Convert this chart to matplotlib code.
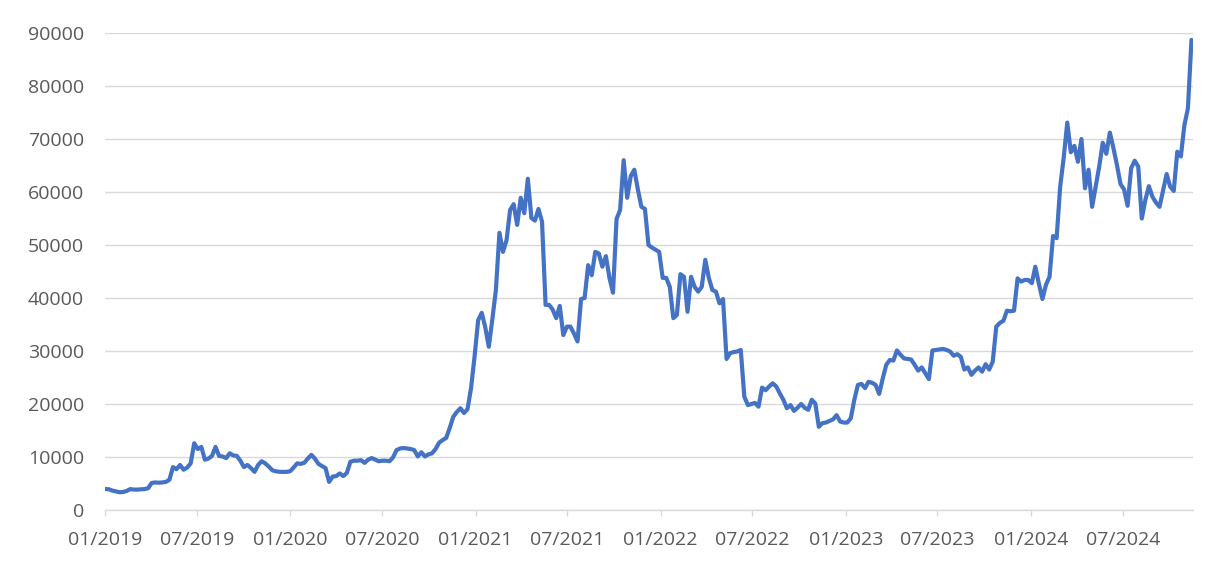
import numpy as np
import pandas as pd
import matplotlib
matplotlib.use('Agg')
import matplotlib.pyplot as plt
import matplotlib.dates as mdates

# weekly prices (Wednesday)
btc_2019 = [3950, 3900, 3650, 3500, 3350, 3400, 3600, 3950, 3850, 3850, 3900, 3950, 4100,
            5100, 5200, 5150, 5200, 5300, 5700, 8100, 7700, 8500, 7600, 8000, 8800, 12600,
            11500, 11900, 9500, 9700, 10200, 11900, 10200, 10100, 9800, 10700, 10300, 10200,
            9300, 8100, 8500, 7900, 7200, 8500, 9200, 8800, 8200, 7500, 7300, 7200, 7200, 7200]
btc_2020 = [7300, 8000, 8800, 8700, 8900, 9700, 10400, 9700, 8700, 8300, 7900, 5300, 6300,
            6400, 6900, 6400, 7000, 9100, 9300, 9300, 9400, 8900, 9500, 9800, 9500, 9200,
            9300, 9300, 9200, 9900, 11300, 11600, 11700, 11600, 11500, 11300, 10100, 10900,
            10100, 10500, 10700, 11500, 12700, 13200, 13600, 15500, 17600, 18500, 19200,
            18300, 19000, 23000]
btc_2021 = [29000, 35800, 37200, 34500, 30800, 36000, 41500, 52300, 48700, 50900, 56600,
            57700, 53800, 58900, 56000, 62500, 55100, 54600, 56800, 54400, 38700, 38700,
            37800, 36200, 38500, 33000, 34600, 34600, 33300, 31800, 39800, 40000, 46200,
            44300, 48700, 48400, 45900, 47900, 43800, 41000, 54900, 56600, 66000, 58900,
            63000, 64200, 60500, 57200, 56800, 50000, 49500, 49100]
btc_2022 = [48700, 43800, 43800, 42100, 36200, 36800, 44500, 44000, 37400, 44000, 42100,
            41200, 42100, 47200, 43800, 41500, 41200, 39000, 39800, 28500, 29600, 29800,
            29900, 30200, 21400, 19800, 20000, 20200, 19500, 23100, 22600, 23300, 23900,
            23300, 22000, 20800, 19200, 19800, 18700, 19300, 20000, 19300, 18900, 20800,
            20100, 15700, 16400, 16500, 16800, 17100, 17900, 16700]
btc_2023 = [16500, 16500, 17300, 20800, 23600, 23800, 23000, 24200, 24000, 23600, 21900,
            24800, 27400, 28300, 28200, 30100, 29300, 28600, 28500, 28400, 27400, 26300,
            26900, 25800, 24700, 30100, 30200, 30300, 30400, 30200, 29900, 29100, 29400,
            28900, 26500, 26900, 25500, 26300, 26900, 26100, 27500, 26500, 28000, 34600,
            35300, 35700, 37600, 37500, 37600, 43700, 43100, 43400]
btc_2024 = [43400, 42800, 45900, 42700, 39800, 42500, 44000, 51700, 51300, 61000, 66500,
            73100, 67500, 68700, 65700, 70000, 60700, 64200, 57200, 61000, 64800, 69300,
            67200, 71200, 68300, 65100, 61500, 60500, 57400, 64500, 65900, 64800, 55000,
            58500, 61100, 59100, 58000, 57200, 60300, 63400, 61000, 60200, 67600, 66700,
            72600, 75800, 88700]

prices = btc_2019 + btc_2020 + btc_2021 + btc_2022 + btc_2023 + btc_2024
dates = pd.date_range('2019-01-02', periods=len(prices), freq='W-WED')

plt.rcParams['font.family'] = ['Open Sans', 'DejaVu Sans']

fig = plt.figure(figsize=(12.23, 5.72), dpi=100)
ax = fig.add_axes([105 / 1223, 62 / 572, 1088 / 1223, 477 / 572])

ax.plot(dates, prices, color='#4472C4', linewidth=3.0, solid_joinstyle='round',
        solid_capstyle='round', zorder=3)

ax.set_ylim(0, 90000)
ax.set_yticks(np.arange(0, 90001, 10000))
ax.set_xlim(pd.Timestamp('2019-01-01'), pd.Timestamp('2024-11-16'))
ax.xaxis.set_major_locator(mdates.MonthLocator(bymonth=[1, 7]))
ax.xaxis.set_major_formatter(mdates.DateFormatter('%m/%Y'))

ax.grid(axis='y', color='#D9D9D9', linewidth=1.0)
ax.set_axisbelow(True)
for side in ['top', 'right', 'left']:
    ax.spines[side].set_visible(False)
ax.spines['bottom'].set_color('#D9D9D9')
ax.spines['bottom'].set_linewidth(1.0)

ax.tick_params(axis='y', length=0, pad=15, labelsize=14, labelcolor='#595959')
ax.tick_params(axis='x', length=4, width=1.0, color='#D9D9D9', pad=11,
               labelsize=14, labelcolor='#595959')

fig.savefig('out.png', dpi=100)
